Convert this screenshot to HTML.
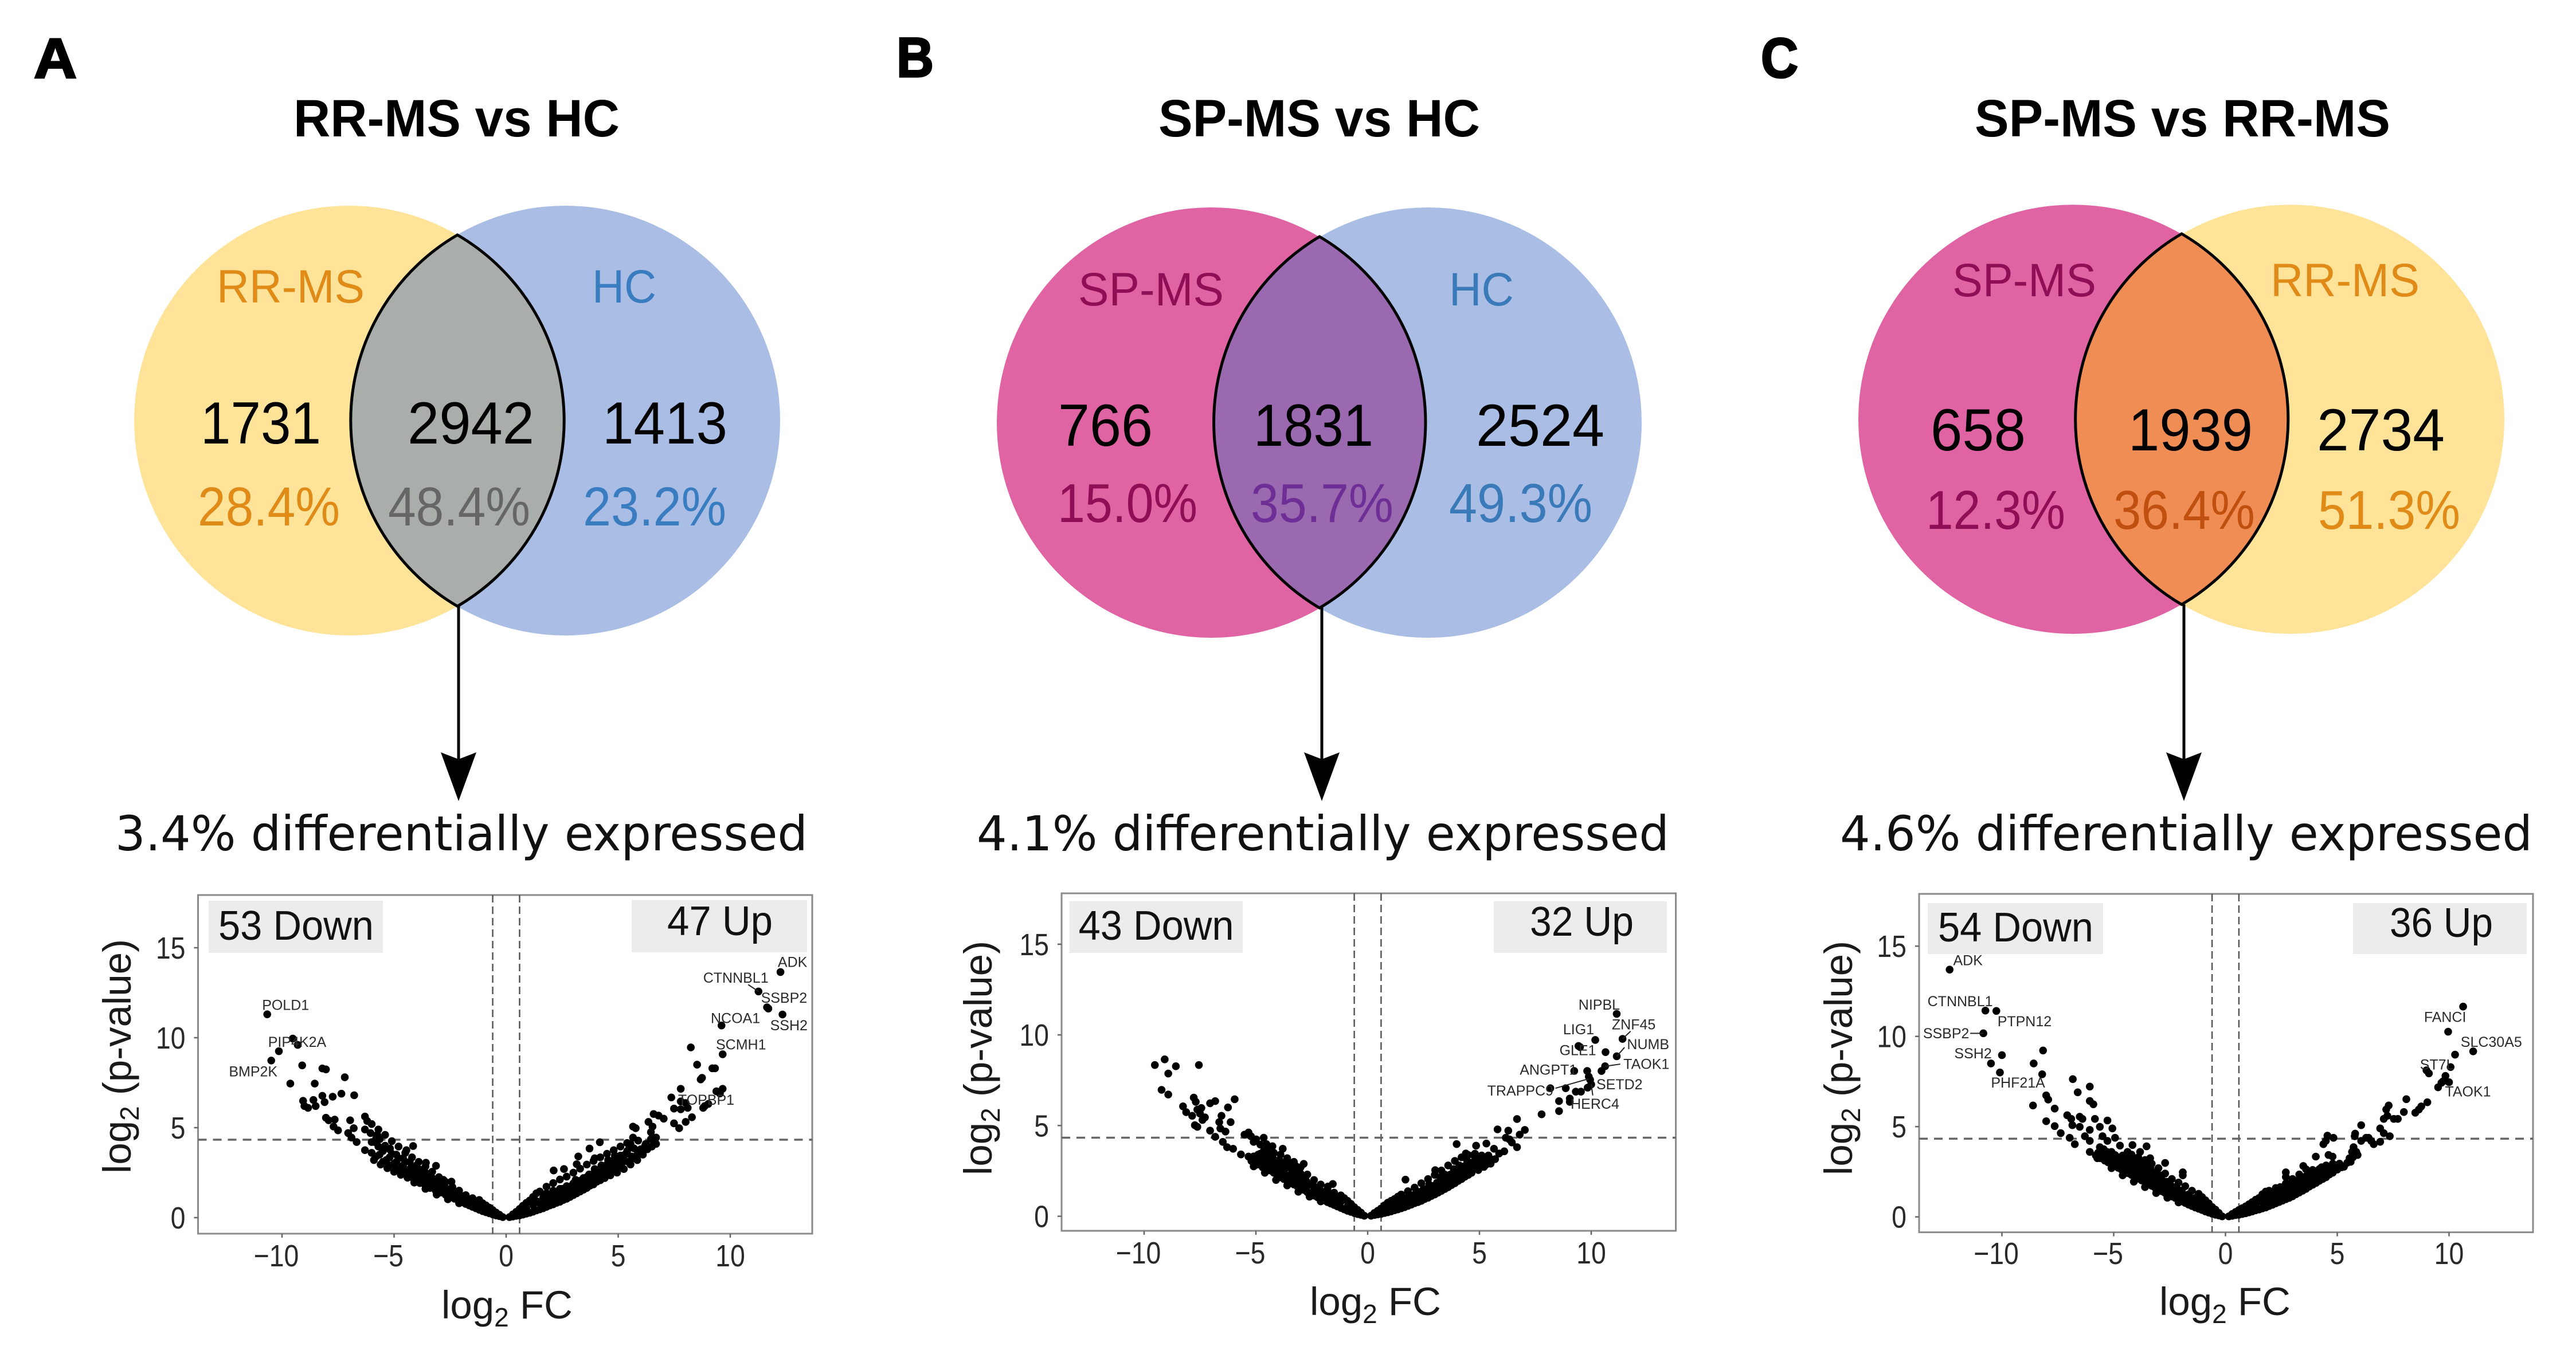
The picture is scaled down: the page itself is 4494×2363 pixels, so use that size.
<!DOCTYPE html>
<html lang="en">
<head>
<meta charset="utf-8">
<title>Venn diagrams and volcano plots: RR-MS, SP-MS, HC</title>
<style>
html,body{margin:0;padding:0;background:#fff;width:4494px;height:2363px;overflow:hidden}
svg{display:block;font-family:"Liberation Sans",Arial,sans-serif}
</style>
</head>
<body>
<svg id="figure" xmlns="http://www.w3.org/2000/svg" width="4494" height="2363" viewBox="0 0 4494 2363">
<rect width="4494" height="2363" fill="#fff"/>

<!-- Panel A -->
<g>
<text x="59" y="136" font-size="98" font-weight="700" stroke="#000" stroke-width="3" textLength="75" lengthAdjust="spacingAndGlyphs">A</text>
<text x="512" y="238" font-size="92" font-weight="700" textLength="569" lengthAdjust="spacingAndGlyphs">RR-MS vs HC</text>
<ellipse cx="609" cy="734" rx="375" ry="375" fill="#ffe398"/>
<ellipse cx="986" cy="734" rx="375" ry="375" fill="#a9bde5"/>
<path d="M798 410 A375 375 0 0 1 798 1058 A375 375 0 0 1 798 410 Z" fill="#a9aeaa" stroke="#000" stroke-width="5"/>
<text x="378" y="528" font-size="82" fill="#e08a17" textLength="258" lengthAdjust="spacingAndGlyphs">RR-MS</text>
<text x="1033" y="528" font-size="82" fill="#3a7cc0" textLength="112" lengthAdjust="spacingAndGlyphs">HC</text>
<text x="350" y="774" font-size="104" textLength="210" lengthAdjust="spacingAndGlyphs">1731</text>
<text x="711" y="774" font-size="104" textLength="221" lengthAdjust="spacingAndGlyphs">2942</text>
<text x="1051" y="774" font-size="104" textLength="218" lengthAdjust="spacingAndGlyphs">1413</text>
<text x="345" y="917" font-size="96" fill="#e08a17" textLength="248" lengthAdjust="spacingAndGlyphs">28.4%</text>
<text x="677" y="917" font-size="96" fill="#666" textLength="248" lengthAdjust="spacingAndGlyphs">48.4%</text>
<text x="1017" y="917" font-size="96" fill="#3a7cc0" textLength="250" lengthAdjust="spacingAndGlyphs">23.2%</text>
<line x1="800" y1="1058" x2="800" y2="1330" stroke="#000" stroke-width="5"/>
<path d="M769 1313 L800 1325 L831 1313 L800 1398 Z" fill="#000"/>
<text x="201" y="1484" font-size="84" fill="#111" style="font-family:'DejaVu Sans',sans-serif" textLength="1208" lengthAdjust="spacingAndGlyphs">3.4% differentially expressed</text>
</g>

<!-- Panel B -->
<g>
<text x="1564" y="134" font-size="98" font-weight="700" stroke="#000" stroke-width="3" textLength="65" lengthAdjust="spacingAndGlyphs">B</text>
<text x="2021" y="238" font-size="92" font-weight="700" textLength="561" lengthAdjust="spacingAndGlyphs">SP-MS vs HC</text>
<ellipse cx="2113" cy="737.5" rx="374" ry="375.5" fill="#e063a3"/>
<ellipse cx="2491" cy="737.5" rx="373" ry="375.5" fill="#a9bde5"/>
<path d="M2302 413 A374 375.5 0 0 1 2302 1061 A373 375.5 0 0 1 2302 413 Z" fill="#9a69b0" stroke="#000" stroke-width="5"/>
<text x="1881" y="533" font-size="82" fill="#8e0f55" textLength="254" lengthAdjust="spacingAndGlyphs">SP-MS</text>
<text x="2528" y="533" font-size="82" fill="#3a7ab8" textLength="113" lengthAdjust="spacingAndGlyphs">HC</text>
<text x="1846" y="778" font-size="104" textLength="165" lengthAdjust="spacingAndGlyphs">766</text>
<text x="2187" y="778" font-size="104" textLength="209" lengthAdjust="spacingAndGlyphs">1831</text>
<text x="2575" y="778" font-size="104" textLength="224" lengthAdjust="spacingAndGlyphs">2524</text>
<text x="1845" y="911" font-size="96" fill="#8e0f55" textLength="244" lengthAdjust="spacingAndGlyphs">15.0%</text>
<text x="2182" y="911" font-size="96" fill="#6d2f96" textLength="249" lengthAdjust="spacingAndGlyphs">35.7%</text>
<text x="2528" y="911" font-size="96" fill="#3a7ab8" textLength="250" lengthAdjust="spacingAndGlyphs">49.3%</text>
<line x1="2306" y1="1060" x2="2306" y2="1330" stroke="#000" stroke-width="5"/>
<path d="M2275 1313 L2306 1325 L2337 1313 L2306 1398 Z" fill="#000"/>
<text x="1704" y="1484" font-size="84" fill="#111" style="font-family:'DejaVu Sans',sans-serif" textLength="1208" lengthAdjust="spacingAndGlyphs">4.1% differentially expressed</text>
</g>

<!-- Panel C -->
<g>
<text x="3072" y="135" font-size="98" font-weight="700" stroke="#000" stroke-width="3" textLength="65" lengthAdjust="spacingAndGlyphs">C</text>
<text x="3445" y="238" font-size="92" font-weight="700" textLength="725" lengthAdjust="spacingAndGlyphs">SP-MS vs RR-MS</text>
<ellipse cx="3616.5" cy="731.7" rx="374.5" ry="374.5" fill="#e063a3"/>
<ellipse cx="3995.5" cy="731.7" rx="373.5" ry="374.5" fill="#ffe398"/>
<path d="M3806 408 A374.5 374.5 0 0 1 3806 1055 A373.5 374.5 0 0 1 3806 408 Z" fill="#ef8d55" stroke="#000" stroke-width="5"/>
<text x="3406" y="517" font-size="82" fill="#8e0f55" textLength="251" lengthAdjust="spacingAndGlyphs">SP-MS</text>
<text x="3961" y="517" font-size="82" fill="#e08a17" textLength="260" lengthAdjust="spacingAndGlyphs">RR-MS</text>
<text x="3368" y="786" font-size="104" textLength="166" lengthAdjust="spacingAndGlyphs">658</text>
<text x="3713" y="786" font-size="104" textLength="217" lengthAdjust="spacingAndGlyphs">1939</text>
<text x="4042" y="786" font-size="104" textLength="223" lengthAdjust="spacingAndGlyphs">2734</text>
<text x="3360" y="923" font-size="96" fill="#8e0f55" textLength="243" lengthAdjust="spacingAndGlyphs">12.3%</text>
<text x="3687" y="923" font-size="96" fill="#c0500f" textLength="247" lengthAdjust="spacingAndGlyphs">36.4%</text>
<text x="4044" y="923" font-size="96" fill="#e08a17" textLength="248" lengthAdjust="spacingAndGlyphs">51.3%</text>
<line x1="3810" y1="1055" x2="3810" y2="1330" stroke="#000" stroke-width="5"/>
<path d="M3779 1313 L3810 1325 L3841 1313 L3810 1398 Z" fill="#000"/>
<text x="3210" y="1484" font-size="84" fill="#111" style="font-family:'DejaVu Sans',sans-serif" textLength="1208" lengthAdjust="spacingAndGlyphs">4.6% differentially expressed</text>
</g>

<g id="volcano-layer"></g>
</svg>

<script>
// ---- shared axis ticks ----
const xTickValues = [-10, -5, 0, 5, 10];
const yTickValues = [0, 5, 10, 15];
const foldChangeCutoff = 0.6;
const pValueCutoff = 4.33;

// ---- panel A: RR-MS vs HC (log2 FC, log2 p-value) ----
const volcanoADownOutliers = [[-10.66,11.3],[-9.52,9.95],[-9.3,9.6],[-10.14,9.25],[-10.48,8.73],[-9.1,8.46],[-8.2,8.29],[-8.04,8.24],[-7.2,7.8],[-9.63,7.45],[-8.54,7.45],[-9.06,6.49],[-9,6.2],[-8.84,6.1],[-8.6,6.54],[-8.5,6.2],[-8.2,6.77],[-8.1,6.42],[-7.74,6.72],[-7.35,6.89],[-6.78,6.8],[-8.04,5.55],[-7.92,5.41],[-7.65,5.45],[-7.7,5.06],[-7.5,4.85],[-6.96,5.41],[-6.8,4.97],[-6.3,5.62],[-6.2,5.37],[-7.05,4.7],[-6.9,4.45],[-6.67,4.2],[-6.3,3.75],[-6.3,4.9],[-6.05,4.7],[-5.75,4.6],[-5.64,4.36],[-5.87,4.2],[-5.18,3.84],[-4.15,3.98],[-3.58,3.05],[-3.13,2.88],[-4.45,3.75],[-2.8,2.1],[-2.44,2]];
const volcanoADownBand = [[-0.15,0.03],[-0.3,0.08],[-0.3,0.16],[-0.45,0.12],[-0.45,0.28],[-0.6,0.18],[-0.6,0.42],[-0.75,0.24],[-0.75,0.55],[-0.9,0.3],[-0.9,0.68],[-1.05,0.36],[-1.05,0.8],[-1.2,0.44],[-1.2,0.72],[-1.2,0.98],[-1.35,0.52],[-1.35,0.85],[-1.5,0.6],[-1.5,1.08],[-1.5,0.85],[-1.65,0.68],[-1.65,1],[-1.8,0.76],[-1.8,1.02],[-1.8,1.25],[-1.95,0.85],[-1.95,1.2],[-2.1,0.94],[-2.1,1.22],[-2.1,1.5],[-2.3,1.05],[-2.3,1.4],[-2.4,1.7],[-2.55,1.18],[-2.55,1.5],[-2.7,1.27],[-2.7,1.65],[-2.7,1.98],[-2.9,1.4],[-2.9,1.75],[-3,2.25],[-3.15,1.52],[-3.15,1.9],[-3.3,2.2],[-3.3,2.55],[-3.4,1.65],[-3.6,1.78],[-3.6,2.15],[-3.6,2.5],[-3.6,2.85],[-3.85,1.92],[-3.85,2.3],[-3.9,2.7],[-3.9,3.1],[-4.1,2.05],[-4.1,2.45],[-4.2,2.85],[-4.2,3.35],[-4.4,2.22],[-4.4,2.6],[-4.5,3.1],[-4.5,3.6],[-4.7,2.38],[-4.7,2.75],[-4.8,3.3],[-4.8,3.95],[-5,2.55],[-5,3],[-5.1,3.55],[-5.1,4.25],[-5.3,2.75],[-5.35,3.2],[-5.4,4],[-5.4,4.6],[-5.6,2.95],[-5.65,3.5],[-5.7,3.95],[-5.7,4.9],[-5.9,3.2],[-6,3.6],[-6,4.2],[-6,5.2]];
const volcanoADownFill = [[-1.3,0.68],[-1.6,0.85],[-1.9,1.05],[-2.2,1.25],[-2.45,1.35],[-2.45,1.6],[-2.8,1.5],[-2.8,1.85],[-3.05,1.7],[-3.05,2.05],[-3.25,1.75],[-3.25,2],[-3.45,1.85],[-3.45,2.3],[-3.75,2],[-3.75,2.4],[-3.75,2.65],[-4,2.15],[-4,2.6],[-4,2.9],[-4.3,2.35],[-4.3,2.7],[-4.3,3.1],[-4.6,2.5],[-4.6,2.9],[-4.6,3.3],[-4.9,2.7],[-4.9,3.1],[-4.9,3.5],[-5.2,2.9],[-5.2,3.35],[-5.2,3.8],[-5.5,3.1],[-5.5,3.7],[-5.8,3.4],[-5.8,4.4],[-2.1,0.8],[-2.6,1.02],[-3.1,1.28],[-3.6,1.6],[-4.1,1.95]];
const volcanoAUpOutliers = [[12.24,13.65],[11.26,12.57],[11.64,11.69],[11.7,11.62],[12.33,11.29],[9.61,10.68],[8.24,9.46],[9.66,9.08],[8.52,8.5],[9.2,8.3],[9.32,8.3],[8.74,7.77],[8.68,7.68],[9.66,7.16],[9.38,7.02],[9.54,6.9],[7.79,7.16],[7.37,6.68],[7.79,6.46],[8.01,6.37],[7.49,6.06],[7.79,6.02],[8.1,6.1],[8.86,6.2],[9.02,6.32],[8.79,6.1],[8.29,5.58],[8.01,5.32],[7.49,5.24],[7.72,4.97],[6.58,5.76],[6.8,5.67],[7.03,5.5],[6.35,5.32],[6.53,5.06],[6.46,4.75],[5.66,5.06],[5.78,4.97],[5.66,4.45],[5.55,4.1],[5.89,4.28],[6.46,4.36],[6.69,4.45],[6.69,4.1],[6.23,4.1],[6,3.66],[4.18,4.19],[3.72,3.84],[3.22,3.4],[3.15,2.97],[3.95,3.3],[2.12,2.62],[2.58,2.7]];
const volcanoAUpBand = [[0.15,0.03],[0.3,0.06],[0.3,0.18],[0.45,0.1],[0.45,0.32],[0.6,0.12],[0.6,0.48],[0.75,0.17],[0.75,0.66],[0.9,0.22],[0.9,0.5],[0.9,0.82],[1.05,0.27],[1.05,0.95],[1.2,0.33],[1.2,0.7],[1.2,1.15],[1.35,0.4],[1.35,0.92],[1.35,1.35],[1.5,0.46],[1.5,0.8],[1.5,1.45],[1.65,0.52],[1.65,1.1],[1.8,0.6],[1.8,0.95],[1.8,1.35],[1.8,1.72],[1.95,0.68],[1.95,1.1],[2.1,0.74],[2.1,1.5],[2.1,1.92],[2.25,0.82],[2.25,1.2],[2.4,0.88],[2.4,1.6],[2.4,2.12],[2.55,0.98],[2.55,1.35],[2.7,1.05],[2.7,1.75],[2.7,2.28],[2.85,1.15],[2.85,1.5],[3,1.25],[3,1.9],[3,2.5],[3.15,1.35],[3.15,1.65],[3.3,1.45],[3.3,2.05],[3.3,2.72],[3.45,1.55],[3.45,1.85],[3.6,1.65],[3.6,2.25],[3.6,2.95],[3.75,1.78],[3.75,2.1],[3.9,1.85],[3.9,2.45],[3.9,3.15],[4.05,2],[4.05,2.3],[4.2,2.08],[4.2,2.7],[4.2,3.35],[4.4,2.2],[4.4,2.55],[4.5,2.95],[4.5,3.55],[4.65,2.35],[4.7,2.75],[4.8,3.2],[4.8,3.75],[4.95,2.5],[5,2.95],[5.1,3.45],[5.1,3.95],[5.25,2.7],[5.3,3.15],[5.4,3.7],[5.4,4.15],[5.55,2.95],[5.6,3.4],[5.7,3.85],[5.85,3.2],[5.9,3.6],[6.1,3.5],[6.3,3.8],[6.5,3.95]];
const volcanoAUpFill = [[1.65,0.8],[1.95,0.9],[2,1.3],[2.25,1],[2.3,1.45],[2.5,1.15],[2.5,1.6],[2.75,1.25],[2.75,1.5],[2.9,1.3],[2.9,1.75],[3.1,1.5],[3.1,2.1],[3.25,1.7],[3.25,1.9],[3.45,1.7],[3.45,2.2],[3.6,1.95],[3.7,1.95],[3.7,2.4],[3.85,2.2],[3.95,2.1],[3.95,2.7],[4.1,2.5],[4.25,2.35],[4.25,2.9],[4.4,2.8],[4.55,2.5],[4.55,3.2],[4.7,3],[4.85,2.65],[4.85,3.45],[5,3.2],[5.15,2.8],[5.15,3],[5.3,3.5],[5.45,3.1],[5.5,3.9],[5.7,3.3],[5.85,3.5],[6,3.8],[6.2,4]];
const volcanoAGenes = [["ADK",12.12,13.93],["CTNNBL1",8.79,13.05],["SSBP2",11.37,11.94],["SSH2",11.78,10.42],["NCOA1",9.13,10.82],["SCMH1",9.36,9.34],["TOPBP1",7.67,6.28],["POLD1",-10.89,11.55],["PIP4K2A",-10.62,9.49],["BMP2K",-12.37,7.85]];
const volcanoALeaders = [[10.8,12.95,11.26,12.57]];

// ---- panel B: SP-MS vs HC ----
const volcanoBDownOutliers = [[-9.08,8.65],[-9.52,8.34],[-8.58,8.27],[-7.55,8.34],[-8.92,7.87],[-9.22,6.97],[-8.92,6.71],[-7.78,6.54],[-7.69,6.31],[-7.05,6.23],[-6.82,6.35],[-5.95,6.45],[-6.25,6],[-8.26,6.06],[-8.12,5.74],[-7.85,5.54],[-7.62,5.88],[-7.44,5.97],[-7.5,5.66],[-7.28,5.45],[-7.39,5.31],[-7.73,5.02],[-7.62,4.93],[-7.05,4.72],[-6.82,4.38],[-6.48,4.1],[-6.54,5.54],[-6.64,5.19],[-6.13,5.19],[-6.59,4.84],[-6.36,4.67],[-6.29,3.81],[-6.02,3.72],[-5.67,3.41],[-5.33,3.29],[-5.1,3.03],[-5.33,4.62],[-5.51,4.5],[-5.22,4.41],[-4.65,4.33],[-4.99,4.24],[-4.53,3.98],[-4.26,3.86],[-3.8,3.72],[-2.86,2.89],[-1.56,1.78],[-1.78,1.64]];
const volcanoBDownBand = [[-0.15,0.03],[-0.3,0.08],[-0.3,0.2],[-0.45,0.12],[-0.45,0.35],[-0.6,0.18],[-0.6,0.5],[-0.75,0.24],[-0.75,0.68],[-0.9,0.3],[-0.9,0.85],[-0.9,0.55],[-1.05,0.38],[-1.05,1],[-1.2,0.46],[-1.2,0.8],[-1.2,1.15],[-1.35,0.54],[-1.35,0.98],[-1.5,0.62],[-1.5,0.95],[-1.5,1.3],[-1.65,0.7],[-1.65,1.15],[-1.8,0.78],[-1.8,1.1],[-1.8,1.5],[-1.95,0.88],[-1.95,1.3],[-2.1,0.96],[-2.1,1.4],[-2.1,1.75],[-2.25,1.05],[-2.25,1.6],[-2.4,1.14],[-2.4,1.45],[-2.4,2],[-2.55,1.25],[-2.55,1.75],[-2.7,1.33],[-2.7,1.7],[-2.7,2.3],[-2.85,1.45],[-2.85,2],[-3,1.55],[-3,1.95],[-3,2.35],[-3,2.7],[-3.15,1.65],[-3.15,2.2],[-3.3,1.75],[-3.3,2.55],[-3.3,3],[-3.45,1.85],[-3.45,2.3],[-3.6,1.95],[-3.6,2.7],[-3.6,3.2],[-3.75,2.05],[-3.75,2.45],[-3.9,2.15],[-3.9,2.85],[-3.9,3.4],[-4.05,2.28],[-4.05,2.65],[-4.2,2.4],[-4.2,3.05],[-4.2,3.5],[-4.35,2.52],[-4.35,2.85],[-4.5,2.65],[-4.5,3.25],[-4.5,3.7],[-4.7,2.7],[-4.7,3],[-4.8,3.45],[-4.8,3.95],[-4.95,2.85],[-5,3.2],[-5.1,4.1],[-5.2,3.05]];
const volcanoBDownFill = [[-1.3,0.7],[-1.6,0.85],[-1.6,1.1],[-1.9,1.05],[-1.9,1.35],[-2.2,1.25],[-2.2,1.5],[-2.45,1.3],[-2.45,1.7],[-2.75,1.5],[-2.75,1.95],[-2.95,1.75],[-2.95,2.15],[-3.2,1.95],[-3.2,2.4],[-3.2,2.75],[-3.4,2.05],[-3.4,2.6],[-3.5,2.9],[-3.7,2.2],[-3.7,2.7],[-3.7,3],[-3.95,2.4],[-3.95,2.6],[-3.95,3.1],[-4.1,2.9],[-4.25,2.6],[-4.25,2.85],[-4.25,3.25],[-4.45,2.9],[-4.45,3.45],[-4.65,2.8],[-4.65,3.2],[-4.65,3.6],[-4.9,3],[-4.9,3.4],[-5.1,3.3],[-2.1,0.82],[-2.6,1.08],[-3.1,1.35],[-3.6,1.7],[-4.1,2],[-4.6,2.4],[-5.1,2.75]];
const volcanoBUpOutliers = [[11.14,11.16],[10.18,9.72],[11.4,9.78],[9.43,9.39],[9.5,9.33],[10.64,9.05],[11.14,8.82],[10.62,8.27],[10.46,8.01],[9.24,8.01],[9.82,8.01],[9.89,7.7],[9.95,7.53],[10,7.27],[9.84,7.09],[8.17,7.06],[8.86,7.06],[9.31,6.87],[9.54,6.87],[9.04,6.49],[9.04,6.31],[8.56,6.35],[8.56,5.8],[7.78,5.62],[6.68,5.36],[5.81,4.79],[7.03,4.76],[6.29,4.72],[6.8,4.5],[6.18,4.33],[6.34,4.24],[6.45,4.07],[6.68,3.81],[3.98,3.98],[4.85,3.89],[5.31,4.01],[5.65,3.72],[5.88,3.46],[6.11,3.58],[4.39,3.46],[4.74,3.37],[3.02,2.54],[1.69,2.02]];
const volcanoBUpBand = [[0.15,0.03],[0.3,0.07],[0.3,0.18],[0.45,0.1],[0.45,0.3],[0.6,0.13],[0.6,0.43],[0.75,0.18],[0.75,0.6],[0.9,0.22],[0.9,0.45],[0.9,0.75],[1.05,0.27],[1.05,0.85],[1.2,0.33],[1.2,0.6],[1.2,0.95],[1.35,0.38],[1.35,0.78],[1.35,1.08],[1.5,0.44],[1.5,0.95],[1.5,1.2],[1.65,0.5],[1.65,0.75],[1.8,0.57],[1.8,1.05],[1.8,1.38],[1.95,0.64],[1.95,0.88],[2.1,0.72],[2.1,1.2],[2.1,1.58],[2.25,0.78],[2.25,1.02],[2.4,0.85],[2.4,1.35],[2.4,1.82],[2.55,0.95],[2.55,1.18],[2.7,1.02],[2.7,1.55],[2.7,2.05],[2.85,1.12],[2.85,1.35],[3,1.2],[3,1.7],[3,2.28],[3.15,1.3],[3.15,1.55],[3.3,1.4],[3.3,1.9],[3.3,2.52],[3.45,1.5],[3.45,1.75],[3.6,1.6],[3.6,2.1],[3.6,2.8],[3.75,1.72],[3.75,2],[3.9,1.82],[3.9,2.35],[3.9,3.05],[4.05,1.95],[4.05,2.2],[4.2,2.05],[4.2,2.6],[4.2,3.25],[4.35,2.18],[4.35,2.45],[4.5,2.28],[4.5,2.85],[4.5,3.38],[4.65,2.4],[4.7,2.7],[4.8,3.1],[4.8,3.45],[4.95,2.55],[5,2.9],[5.1,3.35],[5.2,2.72],[5.3,3.05],[5.4,3.35],[5.5,2.9],[5.7,3.15]];
const volcanoBUpFill = [[1.65,0.95],[1.95,1.1],[2.2,0.95],[2.25,1.35],[2.5,1.05],[2.5,1.5],[2.75,1.2],[2.75,1.75],[2.9,1.5],[3.1,1.4],[3.1,1.85],[3.25,1.65],[3.25,2.15],[3.45,1.95],[3.45,2.3],[3.65,1.8],[3.7,2.3],[3.85,2.1],[3.85,2.6],[4,2],[4,2.5],[4.1,2.8],[4.3,2.3],[4.3,2.75],[4.45,2.6],[4.45,3.05],[4.6,2.5],[4.6,2.95],[4.8,2.65],[4.85,2.9],[4.95,3.2],[5.1,2.85],[5.1,3.1],[5.3,2.85],[5.5,3.15]];
const volcanoBGenes = [["NIPBL",9.43,11.4],["ZNF45",10.92,10.3],["LIG1",8.74,10.04],["NUMB",11.6,9.22],["GLE1",8.58,8.88],["TAOK1",11.44,8.13],["ANGPT1",6.8,7.8],["SETD2",10.23,7],["TRAPPC9",5.35,6.66],["HERC4",9.08,5.92]];
const volcanoBLeaders = [[11.76,10.2,11.4,9.78],[11.49,9.31,11.14,8.82],[11.3,8.39,10.62,8.27],[8.4,7.06,9.89,7.58],[10.07,6.66,10,7.27]];

// ---- panel C: SP-MS vs RR-MS ----
const volcanoCDownOutliers = [[-12.34,13.7],[-10.74,11.43],[-10.25,11.41],[-10.83,10.17],[-8.16,9.22],[-10,8.96],[-10.49,8.5],[-8.58,8.5],[-10.09,8],[-8.2,7.9],[-6.83,7.63],[-6.07,7.22],[-6.61,6.9],[-8.02,6.73],[-7.93,6.5],[-6.07,6.42],[-5.91,6.24],[-8.61,6.17],[-7.64,6],[-7.08,5.63],[-6.52,5.55],[-6.4,5.43],[-6.9,5.43],[-5.84,5.43],[-8.02,5.3],[-7.64,5.03],[-6.85,5.08],[-5.28,5.34],[-5.06,4.9],[-7.37,4.64],[-6.52,4.99],[-6.07,4.82],[-5.62,4.99],[-6.97,4.38],[-6.74,4.03],[-6.29,4.47],[-6.07,4.21],[-5.5,4.47],[-5.28,4.21],[-5.62,3.86],[-5.73,3.25],[-6.07,3.6],[-4.94,4.38],[-4.16,3.98],[-3.53,3.91],[-2.7,2.99],[-1.91,2.47],[-1.91,2.3],[-4.72,3.95],[-4.38,3.6],[-3.82,3.6],[-3.37,3.25],[-4.94,3.43]];
const volcanoCDownBand = [[-0.15,0.03],[-0.3,0.08],[-0.3,0.22],[-0.45,0.12],[-0.45,0.4],[-0.6,0.18],[-0.6,0.55],[-0.75,0.24],[-0.75,0.75],[-0.75,0.48],[-0.9,0.3],[-0.9,0.92],[-0.9,0.62],[-1.05,0.38],[-1.05,1.1],[-1.05,0.75],[-1.2,0.45],[-1.2,0.85],[-1.2,1.28],[-1.35,0.52],[-1.35,1.05],[-1.5,0.6],[-1.5,1],[-1.5,1.45],[-1.65,0.68],[-1.65,1.25],[-1.8,0.77],[-1.8,1.15],[-1.8,1.7],[-1.95,0.86],[-1.95,1.45],[-2.1,0.95],[-2.1,1.3],[-2.1,1.9],[-2.25,1.05],[-2.25,1.65],[-2.4,1.13],[-2.4,1.5],[-2.4,2.1],[-2.55,1.23],[-2.55,1.85],[-2.7,1.32],[-2.7,1.7],[-2.7,2.4],[-2.85,1.42],[-2.85,2.05],[-3,1.52],[-3,1.9],[-3,2.3],[-3,2.7],[-3.15,1.62],[-3.15,2.1],[-3.3,1.72],[-3.3,2.5],[-3.3,2.95],[-3.45,1.82],[-3.45,2.25],[-3.6,1.92],[-3.6,2.7],[-3.6,3.15],[-3.75,2.02],[-3.75,2.45],[-3.9,2.12],[-3.9,2.85],[-3.9,3.3],[-4.05,2.22],[-4.05,2.65],[-4.2,2.32],[-4.2,3],[-4.2,3.45],[-4.35,2.42],[-4.35,2.8],[-4.5,2.52],[-4.5,3.2],[-4.65,2.62],[-4.65,2.95],[-4.8,2.72],[-4.8,3.3],[-4.95,2.82],[-5,3.15],[-5.1,2.92],[-5.1,3.6],[-5.25,3.02],[-5.3,3.35],[-5.4,3.12],[-5.45,3.75],[-5.6,3.25],[-5.7,3.55],[-5.8,3.4]];
const volcanoCDownFill = [[-1.35,0.8],[-1.6,0.85],[-1.6,1.1],[-1.9,1.05],[-1.9,1.25],[-2.15,1.15],[-2.15,1.55],[-2.4,1.3],[-2.45,1.75],[-2.65,1.45],[-2.65,1.95],[-2.9,1.65],[-2.9,2.3],[-3.15,1.85],[-3.15,2.35],[-3.35,1.95],[-3.35,2.25],[-3.35,2.7],[-3.55,2.1],[-3.55,2.45],[-3.55,2.95],[-3.8,2.25],[-3.8,2.65],[-3.8,3.05],[-4,2.4],[-4,2.85],[-4,3.2],[-4.25,2.55],[-4.25,2.8],[-4.3,3.25],[-4.5,2.75],[-4.5,3],[-4.6,3.4],[-4.75,2.9],[-4.75,3.1],[-4.9,3.05],[-5,3.4],[-5.2,3.15],[-5.3,3.6],[-5.5,3.4],[-2.1,0.8],[-2.6,1.06],[-3.1,1.32],[-3.6,1.65],[-4.1,1.95],[-4.6,2.3],[-5.1,2.7]];
const volcanoCUpOutliers = [[10.63,11.65],[9.96,10.26],[11.08,9.17],[10.27,8.99],[10.07,8.3],[8.99,8.12],[9.1,7.95],[9.84,7.81],[9.73,7.51],[9.66,7.43],[10,7.46],[9.51,7.18],[8.09,6.52],[9.03,6.35],[8.76,6.12],[8.65,5.95],[8.49,5.77],[7.3,6.17],[7.19,5.95],[7.98,5.81],[7.24,5.6],[7.53,5.43],[7.71,5.43],[7.08,5.43],[6.07,5.08],[5.8,4.61],[5.78,4.47],[6.92,4.9],[7.08,4.64],[7.35,4.47],[6.92,4.16],[4.56,4.5],[4.83,4.38],[4.38,4.03],[4.49,4.21],[4.61,3.43],[4.79,3.34],[6.29,4.38],[6.52,4.21],[6.63,4.03],[6.07,4.21],[5.73,3.86],[5.91,3.43],[5.66,3.6],[6.4,4.38],[4.04,3.34],[3.48,2.82],[3.6,2.64],[2.7,2.47],[2.7,2.21]];
const volcanoCUpBand = [[0.15,0.03],[0.3,0.06],[0.3,0.16],[0.45,0.1],[0.45,0.27],[0.6,0.12],[0.6,0.38],[0.75,0.16],[0.75,0.48],[0.9,0.2],[0.9,0.58],[1.05,0.25],[1.05,0.7],[1.05,0.46],[1.2,0.3],[1.2,0.82],[1.35,0.36],[1.35,0.65],[1.35,0.95],[1.5,0.41],[1.5,1.05],[1.65,0.47],[1.65,0.8],[1.65,1.25],[1.8,0.52],[1.8,1.4],[1.95,0.6],[1.95,0.98],[1.95,1.45],[2.1,0.67],[2.1,1.15],[2.25,0.75],[2.25,1.3],[2.25,1.6],[2.4,0.82],[2.4,1.1],[2.55,0.9],[2.55,1.5],[2.7,0.98],[2.7,1.25],[2.7,1.85],[2.85,1.05],[2.85,1.6],[3,1.14],[3,1.4],[3,2.1],[3.15,1.25],[3.15,1.75],[3.3,1.35],[3.3,1.6],[3.3,2.35],[3.45,1.45],[3.45,1.95],[3.6,1.55],[3.6,2.25],[3.75,1.68],[3.75,2],[3.9,1.78],[3.9,2.45],[4.05,1.88],[4.05,2.25],[4.2,2],[4.2,2.65],[4.35,2.1],[4.35,2.45],[4.5,2.2],[4.5,2.85],[4.65,2.35],[4.65,2.65],[4.8,2.45],[4.8,2.95],[5,2.62],[5.1,2.95],[5.3,2.78],[5.45,3],[5.6,3.05],[5.7,3.3],[5.85,3.6]];
const volcanoCUpFill = [[1.65,1],[1.95,0.8],[1.95,1.2],[2.2,0.95],[2.2,1.15],[2.45,0.95],[2.45,1.3],[2.45,1.65],[2.65,1.1],[2.65,1.55],[2.9,1.25],[2.9,1.85],[3.1,1.4],[3.1,1.95],[3.25,1.55],[3.3,2.1],[3.5,1.7],[3.5,2.2],[3.7,1.85],[3.7,2.4],[3.85,2.05],[3.9,2.6],[4.1,2.1],[4.1,2.45],[4.3,2.25],[4.3,2.75],[4.55,2.45],[4.55,2.65],[4.75,2.6],[4.95,2.8],[5.2,2.75],[5.55,3.25],[5.75,3.5]];
const volcanoCGenes = [["ADK",-12.18,13.95],["CTNNBL1",-13.33,11.68],["PTPN12",-10.2,10.56],["SSBP2",-13.53,9.9],["SSH2",-12.13,8.78],["PHF21A",-10.49,7.17],["FANCI",8.88,10.8],["SLC30A5",10.52,9.42],["ST7L",8.7,8.16],["TAOK1",9.82,6.67]];
const volcanoCLeaders = [[-11.42,10.17,-10.83,10.17]];

// ---- panel layout (pixel frames, separate from the data) ----
const panels = [
  {id:'a', L:345.5, R:1417, T:1562, B:2153, x0:883, xU:39.1, y0:2125, yU:31.4,
   series:[volcanoADownBand, volcanoADownFill, volcanoAUpBand, volcanoAUpFill, volcanoADownOutliers, volcanoAUpOutliers], genes:volcanoAGenes, leaders:volcanoALeaders,
   down:{box:[364,1572,304,91], text:'53 Down', x:381, y:1640, w:271}, up:{box:[1102,1571,306,91], text:'47 Up', x:1164, y:1632, w:184},
   xTitle:[770,2301], yTitle:[228,2048], tickY:2210},
  {id:'b', L:1852, R:2923.6, T:1559, B:2148, x0:2386, xU:39.0, y0:2122.6, yU:31.65,
   series:[volcanoBDownBand, volcanoBDownFill, volcanoBUpBand, volcanoBUpFill, volcanoBDownOutliers, volcanoBUpOutliers], genes:volcanoBGenes, leaders:volcanoBLeaders,
   down:{box:[1865.5,1573,302.5,90], text:'43 Down', x:1881.6, y:1640, w:271}, up:{box:[2606,1573,302,90], text:'32 Up', x:2669, y:1633, w:181},
   xTitle:[2285,2295], yTitle:[1730,2051], tickY:2205},
  {id:'c', L:3348, R:4419, T:1560, B:2150.6, x0:3882.5, xU:39.0, y0:2123.7, yU:31.5,
   series:[volcanoCDownBand, volcanoCDownFill, volcanoCUpBand, volcanoCUpFill, volcanoCDownOutliers, volcanoCUpOutliers], genes:volcanoCGenes, leaders:volcanoCLeaders,
   down:{box:[3363,1576,306,89], text:'54 Down', x:3381, y:1643, w:271}, up:{box:[4105,1576,303,89], text:'36 Up', x:4169, y:1635, w:180},
   xTitle:[3767,2295], yTitle:[3231,2051], tickY:2206}
];

const NS = 'http://www.w3.org/2000/svg';
const layer = document.getElementById('volcano-layer');

function make(parent, tag, attrs, content) {
  const el = document.createElementNS(NS, tag);
  for (const k in attrs) el.setAttribute(k, attrs[k]);
  if (content !== undefined) el.textContent = content;
  parent.appendChild(el);
  return el;
}

function drawPanel(p) {
  const xs = v => p.x0 + v * p.xU;
  const ys = v => p.y0 - v * p.yU;

  const g = make(layer, 'g', {});
  
  

  const frame = make(g, 'rect', {x:p.L, y:p.T, width:p.R-p.L, height:p.B-p.T, fill:'#fff', stroke:'#8a8a8a', 'stroke-width':3});
  
  

  [p.down, p.up].forEach(function (c) {
    const box = make(g, 'rect', {x:c.box[0], y:c.box[1], width:c.box[2], height:c.box[3], fill:'#ececec'});
    
    
    const t = make(g, 'text', {x:c.x, y:c.y, 'font-size':72, fill:'#111', textLength:c.w, lengthAdjust:'spacingAndGlyphs'}, c.text);
    
    
  });

  [-foldChangeCutoff, foldChangeCutoff].forEach(function (v) {
    const l = make(g, 'line', {x1:xs(v), x2:xs(v), y1:p.T, y2:p.B, stroke:'#555', 'stroke-width':2.5, 'stroke-dasharray':'13 7'});
    
    
  });
  const h = make(g, 'line', {x1:p.L, x2:p.R, y1:ys(pValueCutoff), y2:ys(pValueCutoff), stroke:'#666', 'stroke-width':3.5, 'stroke-dasharray':'15 11'});
  
  

  xTickValues.forEach(function (v) {
    const tick = make(g, 'line', {x1:xs(v), x2:xs(v), y1:p.B, y2:p.B+7, stroke:'#666', 'stroke-width':2.5});
    
    
    const lx = v < 0 ? xs(v) - 10 : xs(v);
    const lab = make(g, 'text', {x:lx, y:p.tickY, 'font-size':54, fill:'#2a2a2a', 'text-anchor':'middle', transform:'translate(' + lx + ' 0) scale(.86 1) translate(' + (-lx) + ' 0)'}, String(v).replace('-', '\u2212'));
    
    
  });
  yTickValues.forEach(function (v) {
    const tick = make(g, 'line', {x1:p.L-7, x2:p.L, y1:ys(v), y2:ys(v), stroke:'#666', 'stroke-width':2.5});
    
    
    const lab = make(g, 'text', {x:p.L-22, y:ys(v)+19, 'font-size':54, fill:'#2a2a2a', 'text-anchor':'end', transform:'translate(' + (p.L-22) + ' 0) scale(.86 1) translate(' + (-(p.L-22)) + ' 0)'}, String(v));
    
    
  });

  p.series.forEach(function (points) {
    points.forEach(function (pt) {
      const dot = make(g, 'circle', {cx:xs(pt[0]), cy:ys(pt[1]), r:6.8, fill:'#000'});
      
      
    });
  });

  p.leaders.forEach(function (d) {
    const seg = make(g, 'line', {x1:xs(d[0]), y1:ys(d[1]), x2:xs(d[2]), y2:ys(d[3]), stroke:'#222', 'stroke-width':2});
    
    
  });
  p.genes.forEach(function (d) {
    const t = make(g, 'text', {x:xs(d[1]), y:ys(d[2]), 'font-size':25, fill:'#2b2b2b'}, d[0]);
    
    
  });

  const xt = make(g, 'text', {x:p.xTitle[0], y:p.xTitle[1], 'font-size':69, fill:'#1a1a1a'});
  
  
  make(xt, 'tspan', {}, 'log');
  make(xt, 'tspan', {'font-size':46, dy:14}, '2');
  make(xt, 'tspan', {dy:-14}, ' FC');

  const yt = make(g, 'text', {x:p.yTitle[0], y:p.yTitle[1], 'font-size':69, fill:'#1a1a1a', transform:'rotate(-90 ' + p.yTitle[0] + ' ' + p.yTitle[1] + ')'});
  
  
  make(yt, 'tspan', {}, 'log');
  make(yt, 'tspan', {'font-size':46, dy:14}, '2');
  make(yt, 'tspan', {dy:-14}, ' (p-value)');
}

panels.forEach(drawPanel);
</script>
</body>
</html>
